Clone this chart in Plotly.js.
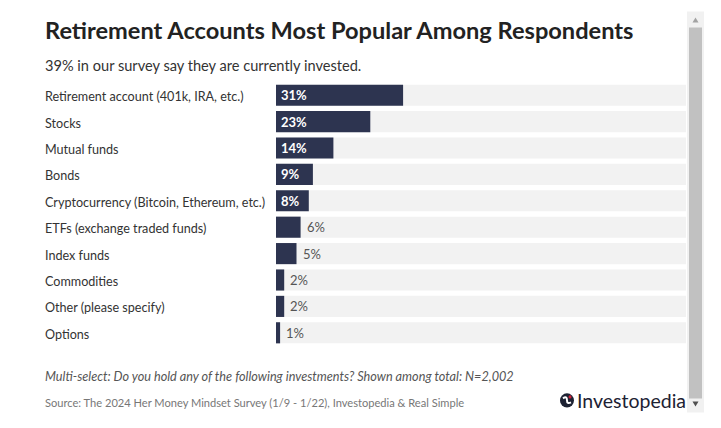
<!DOCTYPE html>
<html>
<head>
<meta charset="utf-8">
<script src="https://cdn.plot.ly/plotly-3.0.1.min.js"></script>
<style>html,body{margin:0;padding:0;background:#fff;}#chart{width:721px;height:428px;}</style>
</head>
<body>
<div id="chart"></div>
<script>
var categories = ["Retirement account (401k, IRA, etc.)", "Stocks", "Mutual funds", "Bonds", "Cryptocurrency (Bitcoin, Ethereum, etc.)", "ETFs (exchange traded funds)", "Index funds", "Commodities", "Other (please specify)", "Options"];
var values = [31, 23, 14, 9, 8, 6, 5, 2, 2, 1];
var valueLabels = ["31%", "23%", "14%", "9%", "8%", "6%", "5%", "2%", "2%", "1%"];
var fullScale = [100, 100, 100, 100, 100, 100, 100, 100, 100, 100];

var FONT = "'Source Sans Pro', Lato, 'Open Sans', sans-serif";
var navy = "#2d3450";
var LX = -0.5683;

var traces = [
  {type: "bar", orientation: "h", y: categories, x: fullScale, marker: {color: "#f2f2f2"}, hoverinfo: "skip", showlegend: false},
  {type: "bar", orientation: "h", y: categories, x: values, marker: {color: navy}, showlegend: false}
];

var annotations = [];
categories.forEach(function (c, i) {
  annotations.push({xref: "paper", yref: "y", x: LX, y: c, yshift: -1.5, text: c, showarrow: false, xanchor: "left", yanchor: "middle", font: {family: FONT, size: 12.6, color: "#333"}});
  var inside = values[i] >= 8;
  annotations.push({xref: "x", yref: "y", x: inside ? 0 : values[i], y: c, text: inside ? "<b>" + valueLabels[i] + "</b>" : valueLabels[i], showarrow: false, xanchor: "left", yanchor: "middle", xshift: inside ? 3 : 4, font: {family: FONT, size: 13, color: inside ? "#ffffff" : "#555"}});
});

annotations.push({xref: "paper", yref: "paper", x: LX, y: 1, yshift: 52, text: "<b>Retirement Accounts Most Popular Among Respondents</b>", showarrow: false, xanchor: "left", yanchor: "middle", font: {family: FONT, size: 23.6, color: "#222"}});
annotations.push({xref: "paper", yref: "paper", x: LX, y: 1, yshift: 17, text: "39% in our survey say they are currently invested.", showarrow: false, xanchor: "left", yanchor: "middle", font: {family: FONT, size: 14.6, color: "#333"}});
annotations.push({xref: "paper", yref: "paper", x: LX, y: 0, yshift: -30, text: "<i>Multi-select: Do you hold any of the following investments? Shown among total: N=2,002</i>", showarrow: false, xanchor: "left", yanchor: "middle", font: {family: FONT, size: 12.7, color: "#555"}});
annotations.push({xref: "paper", yref: "paper", x: LX, y: 0, yshift: -56, text: "Source: The 2024 Her Money Mindset Survey (1/9 - 1/22), Investopedia &amp; Real Simple", showarrow: false, xanchor: "left", yanchor: "middle", font: {family: FONT, size: 11.1, color: "#777"}});
annotations.push({xref: "paper", yref: "paper", x: (575 - 276) / 410, y: 0, yshift: -54, text: "Investopedia", showarrow: false, xanchor: "left", yanchor: "middle", font: {family: FONT, size: 19.5, color: "#1d2233"}});

function px(x) { return (x - 276) / 410; }
function py(y) { return (346 - y) / 262; }

var shapes = [
  // logo icon
  {type: "circle", xref: "paper", yref: "paper", x0: px(560), x1: px(574), y0: py(407), y1: py(393), fillcolor: "#1d2233", line: {width: 0}},
  {type: "path", xref: "paper", yref: "paper", path: "M " + px(563) + " " + py(398) + " Q " + px(567) + " " + py(395) + " " + px(567) + " " + py(400) + " Q " + px(567) + " " + py(404) + " " + px(571) + " " + py(402), line: {color: "#ffffff", width: 2}},
  {type: "circle", xref: "paper", yref: "paper", x0: px(568.5), x1: px(571.5), y0: py(398), y1: py(395), fillcolor: "#d3213a", line: {width: 0}},
  // scrollbar track
  {type: "rect", xref: "paper", yref: "paper", x0: px(687), x1: px(704), y0: py(412), y1: py(14), fillcolor: "#f1f1f1", line: {width: 0}},
  // scrollbar thumb
  {type: "rect", xref: "paper", yref: "paper", x0: px(689), x1: px(702), y0: py(398), y1: py(30), fillcolor: "#c1c1c1", line: {width: 0}},
  // up arrow
  {type: "path", xref: "paper", yref: "paper", path: "M " + px(692.5) + " " + py(25) + " L " + px(698.5) + " " + py(25) + " L " + px(695.5) + " " + py(20) + " Z", fillcolor: "#a3a3a3", line: {width: 0}},
  // down arrow
  {type: "path", xref: "paper", yref: "paper", path: "M " + px(692.5) + " " + py(401) + " L " + px(698.5) + " " + py(401) + " L " + px(695.5) + " " + py(406) + " Z", fillcolor: "#505050", line: {width: 0}}
];

var layout = {
  width: 721, height: 428,
  margin: {l: 276, r: 35, t: 82, b: 82},
  paper_bgcolor: "#ffffff", plot_bgcolor: "#ffffff",
  barmode: "overlay", bargap: 0.2,
  xaxis: {range: [0, 100], visible: false, fixedrange: true},
  yaxis: {autorange: "reversed", showticklabels: false, showgrid: false, zeroline: false, fixedrange: true},
  annotations: annotations,
  shapes: shapes,
  font: {family: FONT}
};

Plotly.newPlot("chart", traces, layout, {displayModeBar: false, staticPlot: true});
</script>
</body>
</html>
